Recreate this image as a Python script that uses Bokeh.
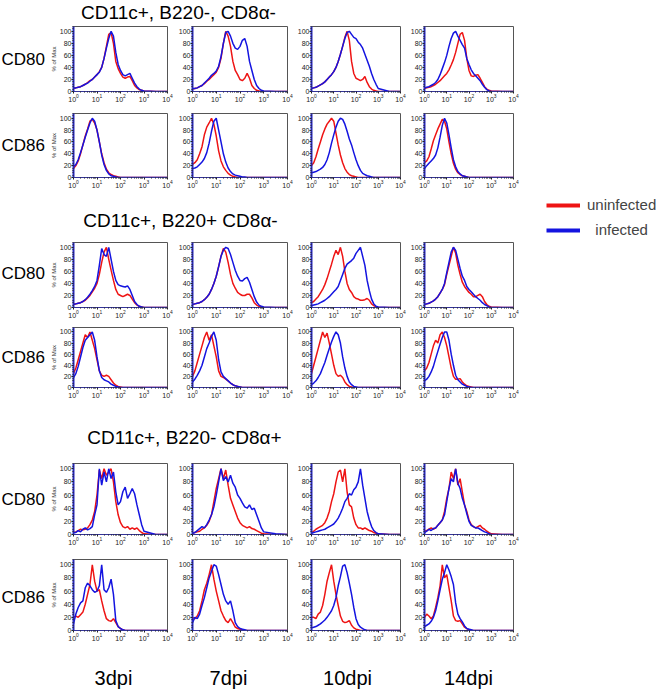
from bokeh.plotting import figure
from bokeh.layouts import column, row
from bokeh.models import Range1d, Spacer, Legend, LegendItem, FixedTicker
from bokeh.embed import file_html
from bokeh.resources import INLINE
from bokeh.core.properties import value

# ---------------- data ----------------
# log10 channel positions at which the histograms were read
LOG_POS = [0.0, 0.1, 0.2, 0.3, 0.4, 0.5, 0.6, 0.7, 0.8, 0.9,
           1.0, 1.1, 1.2, 1.3, 1.4, 1.5, 1.6, 1.7, 1.8, 1.9,
           2.0, 2.1, 2.2, 2.3, 2.4, 2.5, 2.6, 2.7, 2.8, 2.9,
           3.0, 3.5, 4.0]

SECTION_TITLES = ["CD11c+, B220-, CD8\u03b1-", "CD11c+, B220+ CD8\u03b1-", "CD11c+, B220- CD8\u03b1+"]
MARKERS = ["CD80", "CD86"]
DAYS = ["3dpi", "7dpi", "10dpi", "14dpi"]
SERIES_NAMES = ["uninfected", "infected"]
Y_LABEL = "% of Max"
X_TICKS = [1, 10, 100, 1000, 10000]
Y_TICKS = [0, 20, 40, 60, 80, 100]

# Section 1: CD11c+, B220-, CD8a-
S1_CD80_3_U = [6,6,7,8,10,12,15,18,20,24, 28,33,40,55,75,95,98,80,50,38, 30,24,22,24,25,18,10,6,3,2, 1,0,0]
S1_CD80_3_I = [6,6,7,8,10,12,14,17,20,24, 28,32,40,55,72,88,100,92,65,45, 35,28,26,28,30,22,14,8,4,2, 1,0,0]
S1_CD80_7_U = [4,5,6,8,10,13,17,20,24,28, 32,40,55,80,100,92,75,50,35,28, 20,18,22,30,22,10,5,2,1,0, 0,0,0]
S1_CD80_7_I = [5,5,6,8,10,14,18,22,27,30, 34,42,58,80,98,100,92,80,72,70, 75,85,88,75,50,35,20,10,5,2, 1,0,0]
S1_CD80_10_U = [5,6,7,9,11,13,16,20,24,28, 33,40,50,62,75,90,100,85,50,30, 22,20,18,20,25,15,8,4,2,1, 0,0,0]
S1_CD80_10_I = [5,6,7,9,11,13,16,20,24,28, 33,40,50,62,75,88,98,100,95,90, 88,82,78,72,62,52,42,30,20,12, 5,0,0]
S1_CD80_14_U = [5,6,7,8,10,12,15,18,22,26, 30,36,44,53,65,80,95,98,85,55, 35,26,25,27,28,22,15,8,4,2, 1,0,0]
S1_CD80_14_I = [6,7,8,10,12,15,20,28,38,48, 60,75,88,97,100,92,85,78,72,55, 45,36,30,26,22,18,12,7,3,1, 0,0,0]
S1_CD86_3_U = [15,20,28,40,55,70,82,95,98,92, 80,60,40,25,14,8,5,3,2,1, 0,0,0,0,0,0,0,0,0,0, 0,0,0]
S1_CD86_3_I = [18,22,30,42,55,68,80,92,100,95, 80,60,38,22,12,6,3,2,1,0, 0,0,0,0,0,0,0,0,0,0, 0,0,0]
S1_CD86_7_U = [22,25,30,40,52,72,85,92,100,90, 70,45,28,18,12,7,4,2,1,0, 0,0,0,0,0,0,0,0,0,0, 0,0,0]
S1_CD86_7_I = [15,16,18,22,26,32,42,58,78,95, 100,80,60,40,26,16,10,6,4,3, 2,1,1,0,0,0,0,0,0,0, 0,0,0]
S1_CD86_10_U = [20,25,35,48,60,72,82,90,95,100, 95,75,55,38,25,15,9,5,3,2, 1,0,0,0,0,0,0,0,0,0, 0,0,0]
S1_CD86_10_I = [8,9,10,12,14,17,22,30,42,58, 72,85,95,100,98,90,78,65,55,42, 30,20,12,7,5,3,2,1,0,0, 0,0,0]
S1_CD86_14_U = [25,28,35,48,62,72,82,90,98,95, 82,60,40,24,14,8,5,3,2,1, 0,0,0,0,0,0,0,0,0,0, 0,0,0]
S1_CD86_14_I = [15,20,24,28,32,38,50,68,88,100, 92,72,50,30,18,10,6,3,2,1, 0,0,0,0,0,0,0,0,0,0, 0,0,0]

# Section 2: CD11c+, B220+ CD8a-
S2_CD80_3_U = [6,6,7,8,10,12,16,20,26,32, 40,55,75,92,100,80,62,45,30,22, 20,18,20,22,20,14,8,4,2,1, 0,0,0]
S2_CD80_3_I = [5,6,7,8,10,13,17,22,28,35, 45,70,98,88,85,100,80,60,45,38, 36,35,34,36,30,20,10,5,2,1, 0,0,0]
S2_CD80_7_U = [5,6,7,8,10,13,17,22,30,40, 52,68,85,98,92,75,55,40,32,25, 22,20,20,22,22,16,8,4,2,1, 0,0,0]
S2_CD80_7_I = [5,6,7,8,10,13,17,22,30,40, 52,68,85,95,100,98,88,75,62,52, 45,44,48,50,42,30,18,9,4,2, 1,0,0]
S2_CD80_10_U = [8,10,14,18,24,30,38,48,60,72, 85,95,88,100,85,60,40,30,25,18, 15,14,12,12,13,15,12,6,3,1, 0,0,0]
S2_CD80_10_I = [3,4,5,6,8,10,12,15,18,22, 26,30,35,45,55,65,72,75,78,82, 90,95,100,85,70,45,28,14,6,2, 1,0,0]
S2_CD80_14_U = [5,6,7,9,11,14,18,24,30,38, 55,70,85,100,90,70,55,42,35,30, 25,22,18,18,20,22,18,10,5,2, 1,0,0]
S2_CD80_14_I = [5,6,7,9,11,14,18,24,30,40, 58,75,92,100,95,80,65,52,45,35, 30,26,22,18,15,12,8,5,3,1, 0,0,0]
S2_CD86_3_U = [25,35,50,65,80,95,90,100,85,70, 50,30,22,20,22,20,14,8,4,2, 1,0,0,0,0,0,0,0,0,0, 0,0,0]
S2_CD86_3_I = [18,25,38,55,72,85,90,95,100,85, 55,30,18,14,12,10,6,4,2,1, 0,0,0,0,0,0,0,0,0,0, 0,0,0]
S2_CD86_7_U = [20,30,45,60,75,90,100,85,95,75, 55,30,20,18,15,12,8,5,3,2, 1,0,0,0,0,0,0,0,0,0, 0,0,0]
S2_CD86_7_I = [10,15,22,30,40,55,70,80,92,100, 85,50,28,20,16,12,8,5,3,2, 1,0,0,0,0,0,0,0,0,0, 0,0,0]
S2_CD86_10_U = [25,40,55,70,85,100,90,98,80,60, 40,25,20,22,18,10,5,2,1,0, 0,0,0,0,0,0,0,0,0,0, 0,0,0]
S2_CD86_10_I = [5,8,12,18,25,35,45,58,70,82, 92,100,95,80,55,35,20,10,5,2, 1,0,0,0,0,0,0,0,0,0, 0,0,0]
S2_CD86_14_U = [30,35,45,60,75,85,80,95,100,90, 75,55,35,20,15,15,16,10,6,3, 2,1,0,0,0,0,0,0,0,0, 0,0,0]
S2_CD86_14_I = [12,15,20,28,38,52,65,78,90,100, 100,85,60,40,22,14,10,6,4,2, 1,0,0,0,0,0,0,0,0,0, 0,0,0]

# Section 3: CD11c+, B220- CD8a+
S3_CD80_3_U = [3,4,6,8,7,8,10,15,22,35, 60,98,85,100,90,95,100,80,50,30, 18,12,10,12,8,10,8,10,6,3, 1,0,0]
S3_CD80_3_I = [3,3,6,4,8,10,7,9,12,30, 45,100,75,95,80,100,85,95,65,45, 50,65,72,55,62,70,62,45,30,15, 5,0,0]
S3_CD80_7_U = [2,3,4,5,8,10,14,20,30,50, 70,85,100,85,98,75,55,45,35,25, 18,14,12,10,12,9,8,6,4,2, 1,0,0]
S3_CD80_7_I = [2,3,6,9,12,10,15,22,30,42, 60,80,100,82,88,80,90,78,72,60, 55,48,42,40,45,38,40,30,20,10, 4,1,0]
S3_CD80_10_U = [3,5,8,10,12,14,18,25,35,50, 62,80,95,98,80,100,65,45,42,25, 15,10,10,8,10,8,6,5,3,2, 1,0,0]
S3_CD80_10_I = [2,3,4,5,6,7,8,10,12,14, 16,20,25,32,40,50,55,62,60,68, 72,80,100,75,55,35,22,12,6,3, 1,0,0]
S3_CD80_14_U = [5,6,8,10,8,10,14,18,22,35, 55,70,95,85,100,75,85,65,45,35, 22,15,12,10,12,14,10,8,5,3, 1,0,0]
S3_CD80_14_I = [3,5,8,6,9,10,14,18,22,30, 50,70,85,80,100,78,70,55,45,32, 20,14,12,10,10,8,6,4,3,1, 0,0,0]
S3_CD86_3_U = [20,22,20,24,28,40,55,70,100,75, 60,62,45,30,18,15,14,18,12,6, 3,1,0,0,0,0,0,0,0,0, 0,0,0]
S3_CD86_3_I = [10,25,35,42,45,65,72,68,62,58, 60,68,100,62,58,65,78,55,15,6, 3,1,0,0,0,0,0,0,0,0, 0,0,0]
S3_CD86_7_U = [20,18,22,30,45,62,72,85,100,78, 60,45,30,22,15,12,18,12,5,3, 2,1,0,0,0,0,0,0,0,0, 0,0,0]
S3_CD86_7_I = [12,20,18,25,38,50,65,80,90,100, 98,85,70,55,45,40,45,30,12,6, 3,2,1,0,0,0,0,0,0,0, 0,0,0]
S3_CD86_10_U = [20,20,18,25,28,38,55,75,88,100, 75,55,38,22,14,12,13,15,8,4, 2,1,0,0,0,0,0,0,0,0, 0,0,0]
S3_CD86_10_I = [4,5,6,8,10,13,16,20,25,30, 38,50,68,82,98,100,88,72,55,35, 18,9,5,3,1,0,0,0,0,0, 0,0,0]
S3_CD86_14_U = [20,25,22,18,22,35,50,68,100,80, 85,65,45,22,15,14,15,10,5,3, 1,0,0,0,0,0,0,0,0,0, 0,0,0]
S3_CD86_14_I = [6,8,10,14,20,30,45,62,78,88, 100,92,82,70,42,25,18,13,7,3, 2,1,0,0,0,0,0,0,0,0, 0,0,0]

# panel rows: (uninfected, infected) per day column
PANEL_ROWS = [
    [(S1_CD80_3_U, S1_CD80_3_I), (S1_CD80_7_U, S1_CD80_7_I), (S1_CD80_10_U, S1_CD80_10_I), (S1_CD80_14_U, S1_CD80_14_I)],
    [(S1_CD86_3_U, S1_CD86_3_I), (S1_CD86_7_U, S1_CD86_7_I), (S1_CD86_10_U, S1_CD86_10_I), (S1_CD86_14_U, S1_CD86_14_I)],
    [(S2_CD80_3_U, S2_CD80_3_I), (S2_CD80_7_U, S2_CD80_7_I), (S2_CD80_10_U, S2_CD80_10_I), (S2_CD80_14_U, S2_CD80_14_I)],
    [(S2_CD86_3_U, S2_CD86_3_I), (S2_CD86_7_U, S2_CD86_7_I), (S2_CD86_10_U, S2_CD86_10_I), (S2_CD86_14_U, S2_CD86_14_I)],
    [(S3_CD80_3_U, S3_CD80_3_I), (S3_CD80_7_U, S3_CD80_7_I), (S3_CD80_10_U, S3_CD80_10_I), (S3_CD80_14_U, S3_CD80_14_I)],
    [(S3_CD86_3_U, S3_CD86_3_I), (S3_CD86_7_U, S3_CD86_7_I), (S3_CD86_10_U, S3_CD86_10_I), (S3_CD86_14_U, S3_CD86_14_I)],
]
for ri, prow in enumerate(PANEL_ROWS):
    for ci, (u, i) in enumerate(prow):
        if len(u) != len(LOG_POS) or len(i) != len(LOG_POS):
            raise ValueError("length mismatch row %d col %d: %d %d" % (ri, ci, len(u), len(i)))

# ---------------- style / layout ----------------
FONT = "Liberation Sans"
RED = "#ee1414"
BLUE = "#1414e0"
AXIS_BLUE = "#2626b8"

PAGE_W = 661
LABEL_W = 46
COL_W = [129, 119, 113, 113]
COL_BL = [27, 17, 14, 14]
COL_BR = [8, 7, 7, 7]
RIGHT_W = PAGE_W - LABEL_W - sum(COL_W)

# (page y0, height, top border, bottom border, label cap centre)
ROW_GEOM = [(24, 80, 2, 12, 65), (104, 86, 9, 12, 147),
            (238, 82, 4, 12, 277), (320, 80, 7, 11, 360),
            (455, 92, 8, 12, 502), (547, 96, 12, 12, 598)]

XMINOR = [m * 10 ** k for k in range(4) for m in range(2, 10)]
YMINOR = [v for v in range(0, 109, 4) if v % 20 != 0]


def text_fig(w, y0, h, x0=0):
    p = figure(width=w, height=h, x_range=Range1d(x0, x0 + w), y_range=Range1d(y0 + h, y0),
               toolbar_location=None, output_backend="svg", min_border=0,
               min_border_left=0, min_border_right=0, min_border_top=0, min_border_bottom=0,
               x_axis_location=None, y_axis_location=None, outline_line_color=None,
               background_fill_color="white", border_fill_color="white")
    p.grid.visible = False
    return p


def style_axis(ax):
    ax.major_label_text_font = FONT
    ax.major_label_text_font_size = "7px"
    ax.major_label_text_color = "#222222"
    ax.major_label_standoff = 1
    ax.major_tick_in = 0
    ax.major_tick_out = 2
    ax.minor_tick_in = 0
    ax.minor_tick_out = 1
    ax.major_tick_line_color = "#222222"
    ax.minor_tick_line_color = "#222222"


def make_panel(col, h, bt, bb, unin, inf):
    p = figure(width=COL_W[col], height=h, x_axis_type="log",
               x_range=Range1d(1, 10000), y_range=Range1d(0, 108),
               toolbar_location=None, output_backend="svg",
               min_border_left=COL_BL[col], min_border_right=COL_BR[col],
               min_border_top=bt, min_border_bottom=bb,
               background_fill_color="white", border_fill_color="white",
               outline_line_color="#555555", outline_line_width=1)
    xs = [10 ** v for v in LOG_POS]
    p.line(xs, unin, line_color=RED, line_width=1.5)
    p.line(xs, inf, line_color=BLUE, line_width=1.5)
    p.grid.visible = False
    xa = p.xaxis[0]
    ya = p.yaxis[0]
    xa.ticker = FixedTicker(ticks=X_TICKS, minor_ticks=XMINOR)
    ya.ticker = FixedTicker(ticks=Y_TICKS, minor_ticks=YMINOR)
    style_axis(xa)
    style_axis(ya)
    xa.major_label_standoff = 0
    ya.major_label_standoff = 0
    xa.axis_line_color = "#333399"
    ya.axis_line_color = AXIS_BLUE
    ya.axis_line_width = 2
    if col == 0:
        ya.axis_label = Y_LABEL
        ya.axis_label_text_font = FONT
        ya.axis_label_text_font_size = "6px"
        ya.axis_label_text_font_style = "normal"
        ya.axis_label_text_color = "#333333"
        ya.axis_label_standoff = 0
    return p


def title_band(y0, h, title, cx, cy):
    p = text_fig(PAGE_W, y0, h)
    p.text(x=[cx], y=[cy], text=[title], text_font=value(FONT),
           text_font_size=value("19px"), text_align="center",
           text_baseline="middle", text_color="black")
    return p


bands = []
bands.append(title_band(0, 24, SECTION_TITLES[0], 178, 12))

for ri, (y0, h, bt, bb, lab_c) in enumerate(ROW_GEOM):
    lab = text_fig(LABEL_W, y0, h)
    lab.text(x=[1], y=[lab_c], text=[MARKERS[ri % 2]], text_font=value(FONT),
             text_font_size=value("17px"), text_align="left",
             text_baseline="middle", text_color="black")
    panels = [make_panel(ci, h, bt, bb, u, i) for ci, (u, i) in enumerate(PANEL_ROWS[ri])]
    bands.append(row(lab, *panels, Spacer(width=RIGHT_W, height=h)))
    if ri == 1:
        t2 = title_band(190, 48, SECTION_TITLES[1], 180, 220)
        nan = float("nan")
        ru = t2.line(x=[nan, nan], y=[nan, nan], line_color=RED, line_width=4)
        rb = t2.line(x=[nan, nan], y=[nan, nan], line_color=BLUE, line_width=4)
        leg = Legend(items=[LegendItem(label=SERIES_NAMES[0], renderers=[ru]),
                            LegendItem(label="\u00a0\u00a0" + SERIES_NAMES[1], renderers=[rb])],
                     location=(546, 0), orientation="vertical", padding=0, margin=0,
                     spacing=8, glyph_width=34, glyph_height=14, label_height=14,
                     label_standoff=7, label_text_font=FONT, label_text_font_size="15px",
                     border_line_alpha=0, background_fill_alpha=0)
        t2.add_layout(leg)
        bands.append(t2)
    if ri == 3:
        bands.append(title_band(400, 55, SECTION_TITLES[2], 184, 437))

dpi = text_fig(PAGE_W, 643, 46)
dpi.text(x=[113, 228, 347, 468], y=[677] * 4, text=DAYS, text_font=value(FONT),
         text_font_size=value("20px"), text_align="center",
         text_baseline="middle", text_color="black")
bands.append(dpi)

layout = column(*bands, spacing=0)

with open("out.html", "w") as f:
    f.write(file_html(layout, INLINE, title="CD80 / CD86 histograms"))
